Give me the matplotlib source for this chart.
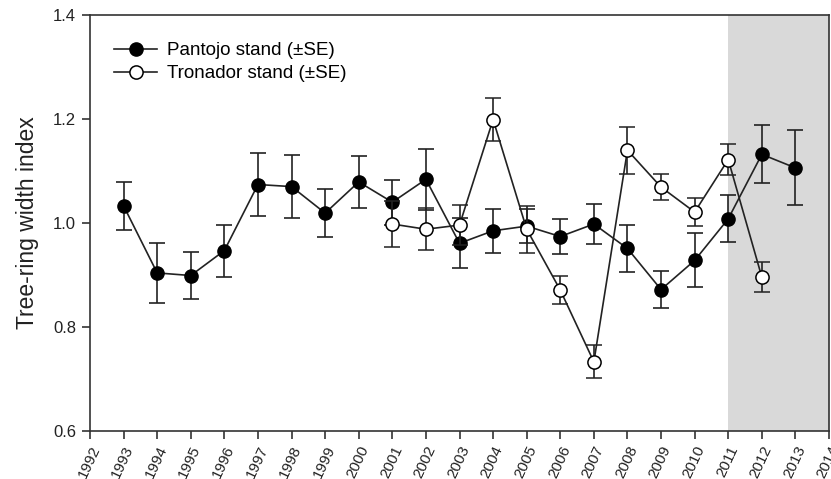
import numpy as np
import matplotlib.pyplot as plt

plt.rcParams["font.family"] = ["Liberation Sans", "DejaVu Sans"]

# ---- data ----
pantojo_years = [1993, 1994, 1995, 1996, 1997, 1998, 1999, 2000, 2001, 2002, 2003,
                 2004, 2005, 2006, 2007, 2008, 2009, 2010, 2011, 2012, 2013]
pantojo_index = [1.033, 0.904, 0.899, 0.947, 1.074, 1.070, 1.019, 1.079, 1.040, 1.084, 0.961,
                 0.985, 0.994, 0.974, 0.998, 0.951, 0.872, 0.928, 1.008, 1.132, 1.106]
pantojo_se = [0.046, 0.057, 0.045, 0.050, 0.061, 0.060, 0.046, 0.050, 0.043, 0.059, 0.048,
              0.042, 0.033, 0.033, 0.038, 0.045, 0.036, 0.052, 0.045, 0.056, 0.072]

tronador_years = [2001, 2002, 2003, 2004, 2005, 2006, 2007, 2008, 2009, 2010, 2011, 2012]
tronador_index = [0.998, 0.988, 0.996, 1.199, 0.988, 0.871, 0.733, 1.140, 1.069, 1.021, 1.122, 0.896]
tronador_se = [0.044, 0.040, 0.038, 0.042, 0.045, 0.027, 0.032, 0.045, 0.025, 0.027, 0.029, 0.029]

year_ticks = list(range(1992, 2015))

fig = plt.figure(figsize=(8.31, 4.79), dpi=100)
ax = fig.add_axes([0.1083, 0.1002, 0.8893, 0.8685])

# shaded period
ax.axvspan(2011, 2014, color="#d9d9d9", lw=0, zorder=0)

line_col = "#222222"
ax.errorbar(pantojo_years, pantojo_index, yerr=pantojo_se, color=line_col, lw=1.2,
            marker="o", ms=9.5, mfc="black", mec="black", ecolor=line_col,
            elinewidth=1.2, capsize=6, capthick=1.2, label="Pantojo stand (\u00b1SE)", zorder=3)
ax.errorbar(tronador_years, tronador_index, yerr=tronador_se, color=line_col, lw=1.2,
            marker="o", ms=9.5, mfc="white", mec="black", mew=1.1, ecolor=line_col,
            elinewidth=1.2, capsize=6, capthick=1.2, label="Tronador stand (\u00b1SE)", zorder=4)

ax.set_xlim(1992, 2014)
ax.set_ylim(0.6, 1.4)
ax.set_xticks(year_ticks)
ax.set_xticklabels([str(y) for y in year_ticks], rotation=65, ha="right",
                   rotation_mode="anchor", fontsize=11, color="#222222")
ax.set_yticks([0.6, 0.8, 1.0, 1.2, 1.4])
ax.set_yticklabels(["0.6", "0.8", "1.0", "1.2", "1.4"], fontsize=12, color="#222222")
ax.tick_params(direction="out", length=6, width=1.2, color="#333333")
ax.tick_params(axis="x", pad=3)
ax.tick_params(axis="y", pad=4)
ax.set_ylabel("Tree-ring width index", fontsize=16.5, color="#222222", labelpad=10)

for s in ax.spines.values():
    s.set_linewidth(1.2)
    s.set_color("#333333")

handles, labels = ax.get_legend_handles_labels()
handles = [h[0] for h in handles]
ax.legend(handles, labels, loc="upper left", bbox_to_anchor=(0.01, 0.975), frameon=False,
          fontsize=13.5, handlelength=2.3, handletextpad=0.5, labelspacing=0.3)

fig.savefig("out.png", dpi=100)
